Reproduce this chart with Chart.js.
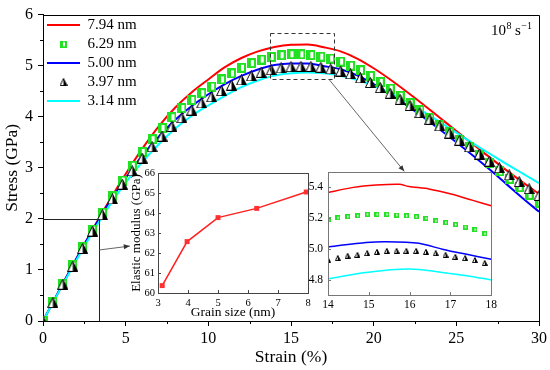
<!DOCTYPE html>
<html><head><meta charset="utf-8">
<script src="https://cdn.jsdelivr.net/npm/chart.js@4.4.0/dist/chart.umd.min.js"></script>
<style>
html,body{margin:0;padding:0;background:#fff;}
#wrap{position:relative;width:550px;height:370px;overflow:hidden;}
canvas{position:absolute;}
</style></head><body>
<div id="wrap">
<canvas id="main" width="550" height="370" style="left:0;top:0;width:550px;height:370px"></canvas>
<canvas id="in1" width="190" height="161" style="left:126px;top:160px;width:190px;height:161px"></canvas>
<canvas id="in2" width="203" height="155" style="left:297px;top:160px;width:203px;height:155px"></canvas>
</div>
<script>
// ---------------- DATA ----------------
const seriesLabels = ['7.94 nm', '6.29 nm', '5.00 nm', '3.97 nm', '3.14 nm'];

// main chart, lines (strain %, stress GPa)
const strainLine = [0,1,2,3,4,5,6,7,8,9,10,11,12,13,14,15,16,17,18,19,20,21,22,23,24,25,26,27,28,29,30];
const red794  = [0,0.61,1.21,1.79,2.35,2.88,3.37,3.81,4.18,4.48,4.73,4.97,5.15,5.28,5.367,5.41,5.415,5.36,5.28,5.14,4.95,4.73,4.49,4.24,3.98,3.72,3.46,3.21,2.96,2.72,2.49];
const blue500 = [0,0.61,1.21,1.78,2.32,2.80,3.24,3.61,3.94,4.21,4.44,4.64,4.80,4.925,5.013,5.043,5.04,4.99,4.93,4.81,4.64,4.44,4.22,3.99,3.75,3.50,3.24,2.97,2.69,2.41,2.14];
const cyan314 = [0,0.60,1.18,1.74,2.25,2.71,3.11,3.46,3.77,4.02,4.22,4.41,4.58,4.71,4.805,4.85,4.868,4.85,4.80,4.72,4.61,4.46,4.29,4.10,3.90,3.69,3.48,3.28,3.08,2.89,2.70];

// main chart, markers
const strainMarker = [0,0.6,1.2,1.8,2.4,3,3.6,4.2,4.8,5.4,6,6.6,7.2,7.8,8.4,9,9.6,10.2,10.8,11.4,12,12.6,13.2,13.8,14.4,15,15.6,16.2,16.8,17.4,18,18.6,19.2,19.8,20.4,21,21.6,22.2,22.8,23.4,24,24.6,25.2,25.8,26.4,27,27.6,28.2,28.8,29.4,30];
const green629 = [0,0.37,0.73,1.09,1.44,1.79,2.12,2.44,2.75,3.04,3.31,3.56,3.78,3.99,4.17,4.33,4.46,4.59,4.73,4.85,4.96,5.05,5.12,5.17,5.205,5.224,5.222,5.207,5.177,5.14,5.08,5.00,4.91,4.80,4.68,4.55,4.41,4.27,4.13,3.98,3.84,3.70,3.55,3.40,3.25,3.09,2.93,2.78,2.62,2.47,2.32];
const black397 = [0,0.36,0.72,1.07,1.42,1.76,2.08,2.39,2.68,2.94,3.19,3.41,3.62,3.81,3.98,4.13,4.27,4.39,4.51,4.62,4.72,4.80,4.87,4.92,4.955,4.98,4.987,4.985,4.97,4.935,4.895,4.84,4.76,4.67,4.57,4.46,4.34,4.22,4.08,3.95,3.82,3.68,3.54,3.41,3.27,3.13,3.00,2.86,2.73,2.59,2.46];

// inset 1: elastic modulus vs grain size
const grainSize = [3.14, 3.97, 5.00, 6.29, 7.94];
const modulus   = [60.37, 62.57, 63.77, 64.23, 65.05];

// inset 2: zoom of the peak (strain 14-18)
const zStrainRed  = [14.0,14.62,15.18,15.75,15.99,16.47,17.04,17.53,18.0];
const zRed        = [5.367,5.40,5.415,5.42,5.405,5.39,5.355,5.317,5.28];
const zStrainBlue = [14.0,14.93,15.42,16.23,16.8,17.37,18.0];
const zBlue       = [5.013,5.041,5.047,5.037,4.998,4.966,4.933];
const zStrainCyan = [14.0,14.93,15.99,16.8,17.4,18.0];
const zCyan       = [4.805,4.847,4.869,4.847,4.825,4.798];
const zStrainMark = [14.00,14.24,14.48,14.72,14.96,15.20,15.44,15.68,15.92,16.16,16.40,16.64,16.88,17.12,17.36,17.60,17.84];
const zGreen      = [5.189,5.202,5.209,5.215,5.225,5.225,5.225,5.220,5.215,5.209,5.198,5.182,5.171,5.158,5.142,5.125,5.098];
const zBlack      = [4.930,4.940,4.955,4.961,4.972,4.981,4.987,4.987,4.987,4.987,4.981,4.972,4.961,4.948,4.940,4.927,4.908];

// tick labels
const mainXTicks = [0,5,10,15,20,25,30];
const mainYTicks = [0,1,2,3,4,5,6];
const in1XTicks = [3,4,5,6,7,8];
const in1YTicks = [60,61,62,63,64,65,66];
const in2XTicks = [14,15,16,17,18];
const in2YTicks = [4.8,5.0,5.2,5.4];

// annotations (data space of main chart)
const zoomBoxStrain = [13.7, 17.6];
const zoomBoxStress = [4.73, 5.64];
const arrowZoomStrain = [17.3, 21.85];
const arrowZoomStress = [4.73, 2.93];
const guideStrain = 3.38, guideStress = 2.0;
const arrowModStrain = [3.38, 5.25];
const arrowModStress = [1.39, 1.467];
const rateText = ['10', '8', 's', '\u22121'];

// ---------------- STYLE ----------------
const FONT = "'Liberation Serif', 'Times New Roman', serif";
Chart.defaults.font.family = FONT;
Chart.defaults.color = '#000';

function greenSquare(w, h, bx, by, bw, bh) {
  const c = document.createElement('canvas'); c.width = w; c.height = h;
  const g = c.getContext('2d');
  g.fillStyle = '#22e022'; g.fillRect(0, 0, w, h);
  g.fillStyle = '#ffffff'; g.fillRect(bx, by, bw, bh);
  return c;
}
function halfTriangle(s) {
  const c = document.createElement('canvas'); c.width = s; c.height = s;
  const g = c.getContext('2d');
  const m = s / 2;
  g.beginPath(); g.moveTo(0.5, s - 0.5); g.lineTo(m, 0.5); g.lineTo(s - 0.5, s - 0.5); g.closePath();
  g.fillStyle = '#fff'; g.fill();
  g.beginPath(); g.moveTo(m, 0.5); g.lineTo(s - 0.5, s - 0.5); g.lineTo(m, s - 0.5); g.closePath();
  g.fillStyle = '#000'; g.fill();
  g.beginPath(); g.moveTo(0.5, s - 0.5); g.lineTo(m, 0.5); g.lineTo(s - 0.5, s - 0.5); g.closePath();
  g.strokeStyle = '#000'; g.lineWidth = 1; g.stroke();
  return c;
}
const sqMain = greenSquare(9, 10, 4, 2, 3, 6);
const triMain = halfTriangle(11);
const sqLeg = greenSquare(7, 7, 3, 1.5, 2, 4);
const triLeg = halfTriangle(8);
const sqIn = greenSquare(5, 5, 2, 1.5, 1.5, 2);
const triIn = halfTriangle(6);

const RED = '#ff0000', BLUE = '#0000ff', CYAN = '#00ffff', GREEN = '#22e022';
const pts = (xs, ys) => xs.map((v, i) => ({x: v, y: ys[i]}));

function arrow(ctx, x1, y1, x2, y2) {
  ctx.beginPath(); ctx.moveTo(x1, y1); ctx.lineTo(x2, y2); ctx.stroke();
  const ang = Math.atan2(y2 - y1, x2 - x1), L = 6, W = 2.5;
  ctx.beginPath();
  ctx.moveTo(x2, y2);
  ctx.lineTo(x2 - L * Math.cos(ang) + W * Math.sin(ang), y2 - L * Math.sin(ang) - W * Math.cos(ang));
  ctx.lineTo(x2 - L * Math.cos(ang) - W * Math.sin(ang), y2 - L * Math.sin(ang) + W * Math.cos(ang));
  ctx.closePath(); ctx.fill();
}

const mainDecor = {
  id: 'mainDecor',
  beforeDraw(chart) {
    const {ctx} = chart; ctx.save(); ctx.fillStyle = '#fff'; ctx.fillRect(0, 0, chart.width, chart.height); ctx.restore();
  },
  afterDatasetsDraw(chart) {
    const {ctx, chartArea: a, scales: {x, y}} = chart;
    ctx.save();
    // frame top / right
    ctx.strokeStyle = '#000'; ctx.lineWidth = 1;
    ctx.beginPath();
    ctx.moveTo(Math.round(a.left), Math.round(a.top) + 0.5); ctx.lineTo(Math.round(a.right) + 0.5, Math.round(a.top) + 0.5);
    ctx.lineTo(Math.round(a.right) + 0.5, Math.round(a.bottom));
    ctx.stroke();
    // minor ticks
    ctx.beginPath();
    for (let i = 0; i < mainYTicks.length - 1; i++) {
      const py = Math.round(y.getPixelForValue((mainYTicks[i] + mainYTicks[i + 1]) / 2)) + 0.5;
      ctx.moveTo(a.left - 3, py); ctx.lineTo(a.left, py);
    }
    for (let i = 0; i < mainXTicks.length - 1; i++) {
      const px = Math.round(x.getPixelForValue((mainXTicks[i] + mainXTicks[i + 1]) / 2)) + 0.5;
      ctx.moveTo(px, a.bottom); ctx.lineTo(px, a.bottom + 3);
    }
    ctx.stroke();
    // dashed zoom box
    ctx.strokeStyle = '#333'; ctx.setLineDash([4, 3]);
    const bx0 = x.getPixelForValue(zoomBoxStrain[0]), bx1 = x.getPixelForValue(zoomBoxStrain[1]);
    const by0 = y.getPixelForValue(zoomBoxStress[1]), by1 = y.getPixelForValue(zoomBoxStress[0]);
    ctx.strokeRect(Math.round(bx0) + 0.5, Math.round(by0) + 0.5, Math.round(bx1 - bx0), Math.round(by1 - by0));
    ctx.setLineDash([]);
    // arrow to zoom inset
    ctx.strokeStyle = '#555'; ctx.fillStyle = '#333'; ctx.lineWidth = 0.9;
    arrow(ctx, x.getPixelForValue(arrowZoomStrain[0]), y.getPixelForValue(arrowZoomStress[0]),
               x.getPixelForValue(arrowZoomStrain[1]), y.getPixelForValue(arrowZoomStress[1]));
    // guide lines at stress 2
    ctx.strokeStyle = '#222'; ctx.lineWidth = 1;
    const gx = Math.round(x.getPixelForValue(guideStrain)) + 0.5, gy = Math.round(y.getPixelForValue(guideStress)) + 0.5;
    ctx.beginPath();
    ctx.moveTo(a.left, gy); ctx.lineTo(gx, gy); ctx.lineTo(gx, a.bottom);
    ctx.stroke();
    ctx.strokeStyle = '#555'; ctx.lineWidth = 0.9;
    arrow(ctx, x.getPixelForValue(arrowModStrain[0]), y.getPixelForValue(arrowModStress[0]),
               x.getPixelForValue(arrowModStrain[1]), y.getPixelForValue(arrowModStress[1]));
    // strain rate label
    ctx.fillStyle = '#000'; ctx.textBaseline = 'alphabetic';
    let tx = 491; const tb = 35;
    ctx.font = '15px ' + FONT; ctx.fillText(rateText[0], tx, tb); tx += ctx.measureText(rateText[0]).width + 0.5;
    ctx.font = '10px ' + FONT; ctx.fillText(rateText[1], tx, tb - 6); tx += ctx.measureText(rateText[1]).width + 3.5;
    ctx.font = '15px ' + FONT; ctx.fillText(rateText[2], tx, tb); tx += ctx.measureText(rateText[2]).width + 0.5;
    ctx.font = '10px ' + FONT; ctx.fillText(rateText[3], tx, tb - 6);
    ctx.restore();
  }
};

const legendStyles = ['line', sqLeg, 'line', triLeg, 'line'];

new Chart(document.getElementById('main'), {
  type: 'scatter',
  data: {
    datasets: [
      {label: seriesLabels[0], data: pts(strainLine, red794), showLine: true, borderColor: RED, backgroundColor: RED, borderWidth: 2, pointRadius: 0, cubicInterpolationMode: 'monotone', order: 5},
      {label: seriesLabels[1], data: pts(strainMarker, green629), showLine: false, borderColor: GREEN, backgroundColor: GREEN, pointStyle: sqMain, pointRadius: 4, order: 2},
      {label: seriesLabels[2], data: pts(strainLine, blue500), showLine: true, borderColor: BLUE, backgroundColor: BLUE, borderWidth: 2, pointRadius: 0, cubicInterpolationMode: 'monotone', order: 4},
      {label: seriesLabels[3], data: pts(strainMarker, black397), showLine: false, borderColor: '#000', backgroundColor: '#000', pointStyle: triMain, pointRadius: 4, order: 1},
      {label: seriesLabels[4], data: pts(strainLine, cyan314), showLine: true, borderColor: CYAN, backgroundColor: CYAN, borderWidth: 2, pointRadius: 0, cubicInterpolationMode: 'monotone', order: 3}
    ]
  },
  options: {
    responsive: false, animation: false, devicePixelRatio: 1, events: [],
    layout: {padding: {top: 10, right: 10, left: 0, bottom: 0}},
    plugins: {
      tooltip: {enabled: false},
      legend: {
        position: 'chartArea', align: 'start',
        title: {display: true, text: '', font: {size: 3}, padding: {top: 0, bottom: 10}},
        labels: {
          usePointStyle: true, pointStyleWidth: 33, padding: 4, color: '#000',
          font: {size: 15, family: FONT},
          generateLabels: (chart) => chart.data.datasets.map((ds, i) => ({
            text: ds.label, fillStyle: ds.borderColor, strokeStyle: ds.borderColor,
            lineWidth: 2, pointStyle: legendStyles[i], hidden: false, datasetIndex: i, fontColor: '#000'
          }))
        }
      }
    },
    scales: {
      x: {
        type: 'linear', min: 0, max: 30,
        afterBuildTicks: s => { s.ticks = mainXTicks.map(v => ({value: v})); },
        ticks: {font: {size: 16}, padding: 3, color: '#000', maxRotation: 0},
        grid: {drawOnChartArea: false, drawTicks: true, tickLength: 5, color: '#000', tickColor: '#000'},
        border: {display: true, color: '#000', width: 1},
        title: {display: true, text: 'Strain (%)', font: {size: 17.5}, color: '#000', padding: {top: 0, bottom: 2}},
        afterFit: s => { s.height = 49; }
      },
      y: {
        type: 'linear', min: 0, max: 6,
        afterBuildTicks: s => { s.ticks = mainYTicks.map(v => ({value: v})); },
        ticks: {font: {size: 16}, padding: 5, color: '#000'},
        grid: {drawOnChartArea: false, drawTicks: true, tickLength: 5, color: '#000', tickColor: '#000'},
        border: {display: true, color: '#000', width: 1},
        title: {display: true, text: 'Stress (GPa)', font: {size: 17.5}, color: '#000', padding: {top: 2, bottom: 0}},
        afterFit: s => { s.width = 43; }
      }
    }
  },
  plugins: [mainDecor]
});

function insetDecor(frameColor) {
  return {
    id: 'insetDecor',
    beforeDraw(chart) {
      const {ctx, chartArea: a} = chart;
      ctx.save(); ctx.fillStyle = '#fff'; ctx.fillRect(a.left, a.top, a.right - a.left, a.bottom - a.top); ctx.restore();
    },
    afterDraw(chart) {
      const {ctx, chartArea: a, scales: {x, y}} = chart;
      ctx.save();
      ctx.strokeStyle = frameColor; ctx.lineWidth = 1;
      ctx.strokeRect(Math.round(a.left) + 0.5, Math.round(a.top) + 0.5, Math.round(a.right - a.left), Math.round(a.bottom - a.top));
      ctx.beginPath();
      x.ticks.forEach(t => { const px = Math.round(x.getPixelForValue(t.value)) + 0.5; ctx.moveTo(px, a.bottom); ctx.lineTo(px, a.bottom - 3); });
      y.ticks.forEach(t => { const py = Math.round(y.getPixelForValue(t.value)) + 0.5; ctx.moveTo(a.left, py); ctx.lineTo(a.left + 3, py); });
      ctx.stroke();
      ctx.restore();
    }
  };
}

new Chart(document.getElementById('in1'), {
  type: 'scatter',
  data: {datasets: [{
    data: pts(grainSize, modulus), showLine: true, borderColor: '#ff2020', backgroundColor: '#ff3030',
    borderWidth: 1.5, pointStyle: 'rect', pointRadius: 3.5, pointBorderWidth: 0, pointBackgroundColor: '#ff3030'
  }]},
  options: {
    responsive: false, animation: false, devicePixelRatio: 1, events: [],
    layout: {padding: {top: 13, right: 8, left: 0, bottom: 0}},
    plugins: {legend: {display: false}, tooltip: {enabled: false}},
    scales: {
      x: {
        type: 'linear', min: 3, max: 8,
        afterBuildTicks: s => { s.ticks = in1XTicks.map(v => ({value: v})); },
        ticks: {font: {size: 10.5}, padding: 4, color: '#000', maxRotation: 0},
        grid: {drawOnChartArea: false, drawTicks: false},
        border: {display: false},
        title: {display: true, text: 'Grain size (nm)', font: {size: 13.5}, color: '#000', padding: {top: 0, bottom: 0}},
        afterFit: s => { s.height = 28; }
      },
      y: {
        type: 'linear', min: 60, max: 66,
        afterBuildTicks: s => { s.ticks = in1YTicks.map(v => ({value: v})); },
        ticks: {font: {size: 10.5}, padding: 3, color: '#000'},
        grid: {drawOnChartArea: false, drawTicks: false},
        border: {display: false},
        title: {display: true, text: 'Elastic modulus (GPa)', font: {size: 13}, color: '#000', padding: {top: 3, bottom: 0}},
        afterFit: s => { s.width = 32; }
      }
    }
  },
  plugins: [insetDecor('#444')]
});

new Chart(document.getElementById('in2'), {
  type: 'scatter',
  data: {datasets: [
    {data: pts(zStrainRed, zRed), showLine: true, borderColor: RED, borderWidth: 1.5, pointRadius: 0, tension: 0.2, order: 5},
    {data: pts(zStrainMark, zGreen), showLine: false, pointStyle: sqIn, pointRadius: 3, order: 2},
    {data: pts(zStrainBlue, zBlue), showLine: true, borderColor: BLUE, borderWidth: 1.5, pointRadius: 0, tension: 0.2, order: 4},
    {data: pts(zStrainMark, zBlack), showLine: false, pointStyle: triIn, pointRadius: 3, order: 1},
    {data: pts(zStrainCyan, zCyan), showLine: true, borderColor: CYAN, borderWidth: 1.5, pointRadius: 0, tension: 0.3, order: 3}
  ]},
  options: {
    responsive: false, animation: false, devicePixelRatio: 1, events: [],
    layout: {padding: {top: 12, right: 7, left: 0, bottom: 0}},
    plugins: {legend: {display: false}, tooltip: {enabled: false}},
    scales: {
      x: {
        type: 'linear', min: 14, max: 18,
        afterBuildTicks: s => { s.ticks = in2XTicks.map(v => ({value: v})); },
        ticks: {font: {size: 11.5}, padding: 3, color: '#000', maxRotation: 0},
        grid: {drawOnChartArea: false, drawTicks: false},
        border: {display: false},
        afterFit: s => { s.height = 20; }
      },
      y: {
        type: 'linear', min: 4.7, max: 5.5,
        afterBuildTicks: s => { s.ticks = in2YTicks.map(v => ({value: v})); },
        ticks: {font: {size: 11.5}, padding: 5, color: '#000', callback: v => Number(v).toFixed(1)},
        grid: {drawOnChartArea: false, drawTicks: false},
        border: {display: false},
        afterFit: s => { s.width = 31; }
      }
    }
  },
  plugins: [insetDecor('#777')]
});
</script>
</body></html>
